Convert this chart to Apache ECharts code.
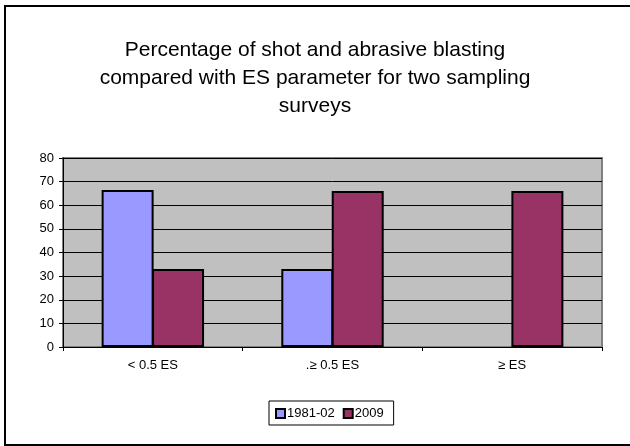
<!DOCTYPE html>
<html>
<head>
<meta charset="utf-8">
<script src="https://cdn.jsdelivr.net/npm/echarts@6/dist/echarts.min.js"></script>
<style>
  html, body { margin: 0; padding: 0; background: #fff; }
  #chart { width: 630px; height: 446px; }
</style>
</head>
<body>
<div id="chart"></div>
<script>
var categories = ['< 0.5 ES', '.\u2265 0.5 ES', '\u2265 ES'];
var survey1981 = [66.5, 33, null];
var survey2009 = [33, 66, 66];
var seriesNames = ['1981-02', '2009'];

var colors = ['#9999FF', '#993366'];
var font = 'Liberation Sans, Arial, sans-serif';

var myChart = echarts.init(document.getElementById('chart'));

var option = {
    animation: false,
    color: colors,
    textStyle: { fontFamily: font },
    title: {
        text: 'Percentage of shot and abrasive blasting\ncompared with ES parameter for two sampling\nsurveys',
        left: 'center',
        top: 31,
        textStyle: {
            fontFamily: font,
            fontSize: 21,
            fontWeight: 'normal',
            color: '#000',
            lineHeight: 28
        }
    },
    graphic: [{
        type: 'rect',
        shape: { x: 5, y: 6, width: 630, height: 439 },
        style: { fill: 'none', stroke: '#000', lineWidth: 2 },
        z: 0
    }],
    legend: {
        data: seriesNames,
        top: 401,
        left: 269,
        padding: [6, 10, 5, 6],
        itemGap: 8,
        itemWidth: 9,
        itemHeight: 9,
        icon: 'rect',
        itemStyle: { borderColor: '#000', borderWidth: 2 },
        borderColor: '#000',
        borderWidth: 1,
        textStyle: { fontFamily: font, fontSize: 13, color: '#000', padding: [0, 0, 0, -3] }
    },
    grid: {
        left: 63,
        right: 28,
        top: 158,
        bottom: 99,
        show: true,
        backgroundColor: '#C0C0C0',
        borderColor: '#808080',
        borderWidth: 2
    },
    xAxis: {
        type: 'category',
        data: categories,
        axisLine: { lineStyle: { color: '#000', width: 1 } },
        axisTick: { show: true, length: 4, lineStyle: { color: '#000' } },
        axisLabel: { color: '#000', fontSize: 13, margin: 12 }
    },
    yAxis: {
        type: 'value',
        min: 0,
        max: 80,
        interval: 10,
        axisLine: { show: true, lineStyle: { color: '#000', width: 1 } },
        axisTick: { show: true, length: 4, lineStyle: { color: '#000' } },
        axisLabel: { color: '#000', fontSize: 13, margin: 9 },
        splitLine: { lineStyle: { color: '#000', width: 1 } }
    },
    series: [
        {
            name: seriesNames[0],
            type: 'bar',
            data: survey1981,
            barGap: '-3%',
            barCategoryGap: '43%',
            itemStyle: { borderColor: '#000', borderWidth: 2 }
        },
        {
            name: seriesNames[1],
            type: 'bar',
            data: survey2009,
            itemStyle: { borderColor: '#000', borderWidth: 2 }
        }
    ]
};

myChart.setOption(option);
</script>
</body>
</html>
